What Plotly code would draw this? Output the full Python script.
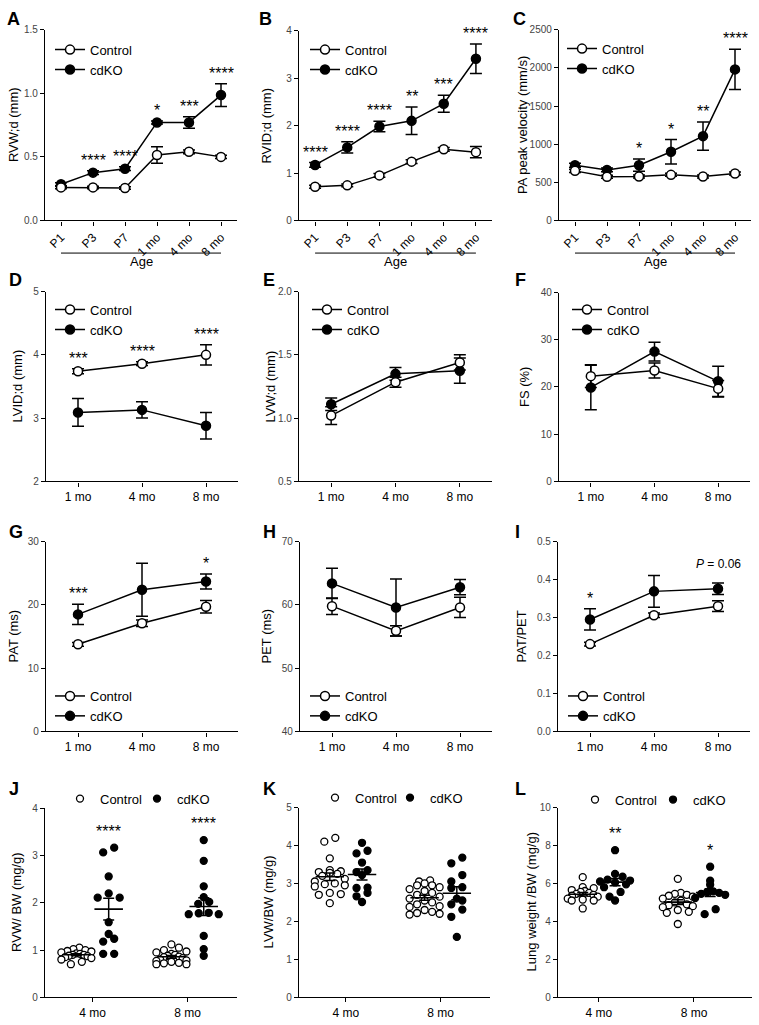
import numpy as np
import plotly.graph_objects as go

W, H = 759, 1025
FONT = "Liberation Sans, Arial, Helvetica, sans-serif"

# ---------------- data ----------------
ages_early = ["P1", "P3", "P7", "1 mo", "4 mo", "8 mo"]
ages_late = ["1 mo", "4 mo", "8 mo"]
ages_organ = ["4 mo", "8 mo"]

# A  RVW;d (mm)
rvwd_ctrl = [0.26, 0.26, 0.255, 0.515, 0.54, 0.50]
rvwd_ctrl_sem = [0.01, 0.01, 0.01, 0.065, 0.015, 0.012]
rvwd_ko = [0.285, 0.376, 0.407, 0.771, 0.771, 0.986]
rvwd_ko_sem = [0.012, 0.015, 0.015, 0.012, 0.045, 0.09]
rvwd_sig = ["", "****", "****", "*", "***", "****"]

# B  RVID;d (mm)
rvid_ctrl = [0.71, 0.74, 0.95, 1.24, 1.50, 1.44]
rvid_ctrl_sem = [0.03, 0.03, 0.04, 0.04, 0.04, 0.12]
rvid_ko = [1.17, 1.54, 1.98, 2.10, 2.46, 3.41]
rvid_ko_sem = [0.05, 0.12, 0.11, 0.29, 0.18, 0.31]
rvid_sig = ["****", "****", "****", "**", "***", "****"]

# C  PA peak velocity (mm/s)
pav_ctrl = [650, 572, 576, 598, 576, 615]
pav_ctrl_sem = [20, 20, 20, 20, 20, 20]
pav_ko = [724, 663, 724, 901, 1105, 1980]
pav_ko_sem = [25, 25, 80, 160, 185, 265]
pav_sig = ["", "", "*", "*", "**", "****"]

# D  LVID;d (mm)
lvid_ctrl = [3.74, 3.86, 4.00]
lvid_ctrl_sem = [0.04, 0.03, 0.16]
lvid_ko = [3.09, 3.13, 2.88]
lvid_ko_sem = [0.22, 0.13, 0.21]
lvid_sig = ["***", "****", "****"]

# E  LVW;d (mm)
lvw_ctrl = [1.02, 1.284, 1.44]
lvw_ctrl_sem = [0.07, 0.04, 0.06]
lvw_ko = [1.11, 1.35, 1.375]
lvw_ko_sem = [0.05, 0.05, 0.10]
lvw_sig = ["", "", ""]

# F  FS (%)
fs_ctrl = [22.3, 23.5, 19.65]
fs_ctrl_sem = [2.4, 1.6, 1.75]
fs_ko = [19.9, 27.5, 21.2]
fs_ko_sem = [4.7, 2.0, 3.2]
fs_sig = ["", "", ""]

# G  PAT (ms)
pat_ctrl = [13.77, 17.1, 19.7]
pat_ctrl_sem = [0.3, 0.5, 1.0]
pat_ko = [18.5, 22.4, 23.7]
pat_ko_sem = [1.6, 4.2, 1.2]
pat_sig = ["***", "", "*"]

# H  PET (ms)
pet_ctrl = [59.8, 55.9, 59.6]
pet_ctrl_sem = [1.3, 0.8, 1.6]
pet_ko = [63.4, 59.6, 62.8]
pet_ko_sem = [2.4, 4.5, 1.2]
pet_sig = ["", "", ""]

# I  PAT/PET
ratio_ctrl = [0.23, 0.306, 0.33]
ratio_ctrl_sem = [0.005, 0.006, 0.014]
ratio_ko = [0.295, 0.369, 0.376]
ratio_ko_sem = [0.028, 0.042, 0.015]
ratio_sig = ["*", "", "<i>P</i> = 0.06"]

# J  RVW/BW (mg/g)
rvwbw_ctrl = [
    [1.05, 1.02, 1.00, 0.98, 0.97, 0.95, 0.93, 0.92, 0.90, 0.90, 0.88, 0.87, 0.85, 0.83, 0.80, 0.75, 0.70],
    [1.12, 1.05, 1.00, 0.97, 0.95, 0.92, 0.90, 0.88, 0.86, 0.85, 0.83, 0.80, 0.78, 0.77, 0.75, 0.73, 0.72, 0.70, 0.70],
]
rvwbw_ko = [
    [3.17, 3.07, 2.56, 2.20, 2.11, 2.11, 1.59, 1.34, 1.24, 1.18, 0.92, 0.92],
    [3.33, 2.89, 2.35, 2.12, 2.02, 1.98, 1.79, 1.78, 1.76, 1.76, 1.30, 1.02, 0.88],
]
rvwbw_sig = ["****", "****"]

# K  LVW/BW (mg/g)
lvwbw_ctrl = [
    [4.20, 4.10, 3.66, 3.35, 3.32, 3.30, 3.28, 3.25, 3.20, 3.12, 3.05, 3.00, 2.98, 2.95, 2.92, 2.75, 2.72, 2.70, 2.48],
    [3.08, 3.05, 3.00, 2.95, 2.95, 2.90, 2.85, 2.80, 2.75, 2.70, 2.65, 2.60, 2.55, 2.50, 2.45, 2.40, 2.38, 2.30, 2.25, 2.22, 2.20, 2.18],
]
lvwbw_ko = [
    [4.07, 3.86, 3.79, 3.55, 3.35, 3.30, 3.22, 2.89, 2.88, 2.75, 2.66, 2.51],
    [3.68, 3.53, 3.22, 3.05, 2.90, 2.88, 2.60, 2.55, 2.45, 2.31, 2.12, 1.59],
]
lvwbw_sig = ["", ""]

# L  Lung weight/BW (mg/g)
lung_ctrl = [
    [6.33, 5.80, 5.75, 5.65, 5.60, 5.55, 5.50, 5.45, 5.40, 5.35, 5.30, 5.20, 5.15, 5.10, 5.10, 4.68],
    [6.24, 5.50, 5.45, 5.40, 5.35, 5.30, 5.20, 5.10, 5.00, 4.90, 4.85, 4.80, 4.75, 4.60, 4.50, 4.45, 3.86],
]
lung_ko = [
    [7.75, 6.50, 6.35, 6.20, 6.15, 6.10, 6.05, 5.95, 5.80, 5.55, 5.30, 5.10],
    [6.88, 6.14, 5.93, 5.58, 5.55, 5.50, 5.45, 5.40, 5.23, 4.64, 4.38],
]
lung_sig = ["**", "*"]

# ---------------- layout helpers ----------------
def dx(l, r):
    return [l / W, r / W]

def dy(t, b):
    return [1 - b / H, 1 - t / H]

line_panels = [
    # letter, box(l,t,r,b), cats, yrange, dtick, fmt, ylabel, ctrl, ctrl_sem, ko, ko_sem, sig, legend pos (x,y px), title x px
    ("A", (45, 24, 237, 217), ages_early, [0, 1.5], 0.5, ".1f", "RVW;d (mm)",
     rvwd_ctrl, rvwd_ctrl_sem, rvwd_ko, rvwd_ko_sem, rvwd_sig, (50, 29), 13),
    ("B", (299, 25, 492, 217), ages_early, [0, 4], 1, "d", "RVID;d (mm)",
     rvid_ctrl, rvid_ctrl_sem, rvid_ko, rvid_ko_sem, rvid_sig, (305, 29), 267),
    ("C", (559, 24, 751, 217), ages_early, [0, 2500], 500, "d", "PA peak velocity (mm/s)",
     pav_ctrl, pav_ctrl_sem, pav_ko, pav_ko_sem, pav_sig, (562, 28), 522),
    ("D", (46, 289, 238, 481), ages_late, [2, 5], 1, "d", "LVID;d (mm)",
     lvid_ctrl, lvid_ctrl_sem, lvid_ko, lvid_ko_sem, lvid_sig, (50, 292), 17),
    ("E", (299, 289, 492, 481), ages_late, [0.5, 2.0], 0.5, ".1f", "LVW;d (mm)",
     lvw_ctrl, lvw_ctrl_sem, lvw_ko, lvw_ko_sem, lvw_sig, (307, 292), 270),
    ("F", (559, 290, 750, 481), ages_late, [0, 40], 10, "d", "FS (%)",
     fs_ctrl, fs_ctrl_sem, fs_ko, fs_ko_sem, fs_sig, (567, 292), 525),
    ("G", (46, 542, 238, 734), ages_late, [0, 30], 10, "d", "PAT (ms)",
     pat_ctrl, pat_ctrl_sem, pat_ko, pat_ko_sem, pat_sig, (50, 683), 14),
    ("H", (300, 542, 492, 734), ages_late, [40, 70], 10, "d", "PET (ms)",
     pet_ctrl, pet_ctrl_sem, pet_ko, pet_ko_sem, pet_sig, (305, 683), 267),
    ("I", (558, 542, 750, 734), ages_late, [0, 0.5], 0.1, ".1f", "PAT/PET",
     ratio_ctrl, ratio_ctrl_sem, ratio_ko, ratio_ko_sem, ratio_sig, (563, 683), 522),
]

scatter_panels = [
    # letter, box, xrange, yrange, dtick, ylabel, ctrl, ko, sig, legend x (control, cdKO), legend y, title x
    ("J", (45, 812, 237, 1003), [-0.5, 1.52], [0, 4], 1, "RVW/ BW (mg/g)",
     rvwbw_ctrl, rvwbw_ko, rvwbw_sig, (60, 137), 802, 17),
    ("K", (299, 811, 490, 1003), [-0.495, 1.52], [0, 5], 1, "LVW/BW (mg/g)",
     lvwbw_ctrl, lvwbw_ko, lvwbw_sig, (315, 390), 801, 268),
    ("L", (558, 811, 752, 1003), [-0.43, 1.61], [0, 10], 2, "Lung weight /BW (mg/g)",
     lung_ctrl, lung_ko, lung_sig, (575, 653), 803, 531),
]

letter_pos = {
    "A": (5, 13), "B": (257, 13), "C": (511, 13),
    "D": (7, 277), "E": (261, 277), "F": (513, 277),
    "G": (7, 532), "H": (261, 532), "I": (513, 532),
    "J": (7, 792), "K": (261, 792), "L": (513, 792),
}

fig = go.Figure()
annotations = []
shapes = []
layout = {}

axis_common = dict(
    showline=True, linecolor="black", linewidth=1.3,
    ticks="outside", ticklen=4, tickwidth=1.2, tickcolor="black",
    showgrid=False, zeroline=False, fixedrange=True,
)

def row_offsets(vals, ypx, xpx, bin_h=9.0, spacing=11.0, max_w=30.0):
    """Scatter-dot-plot style spreading: points in the same vertical bin are laid out in a row."""
    vals = np.asarray(vals)
    bins = np.floor(vals * ypx / bin_h).astype(int)
    offs = np.zeros(len(vals))
    for bval in np.unique(bins):
        idx = np.where(bins == bval)[0]
        m = len(idx)
        if m == 1:
            continue
        sp = min(spacing, max_w / (m - 1))
        idx = idx[np.argsort(vals[idx])]
        order = np.arange(m)
        # alternate so neighbouring values do not line up monotonically
        order = np.concatenate([order[::2], order[1::2][::-1]])
        for j, ii in enumerate(idx[order]):
            offs[ii] = (j - (m - 1) / 2) * sp / xpx
    return offs

legend_count = [0]

def new_legend():
    legend_count[0] += 1
    n = legend_count[0]
    return "legend" if n == 1 else f"legend{n}"

n = 0
# ---------------- line panels ----------------
for (letter, box, cats, yr, dt, fmt, ylabel, c, cs, k, ks, sig, lpos, tx) in line_panels:
    n += 1
    l, t, r, b = box
    xa = "xaxis" if n == 1 else f"xaxis{n}"
    ya = "yaxis" if n == 1 else f"yaxis{n}"
    xr = "x" if n == 1 else f"x{n}"
    yrf = "y" if n == 1 else f"y{n}"
    xs = list(range(len(cats)))
    rotate = len(cats) == 6
    layout[xa] = dict(axis_common, domain=dx(l, r), anchor=yrf, range=[-0.5, len(cats) - 0.5],
                      tickvals=xs, ticktext=cats, tickangle=-45 if rotate else 0,
                      tickfont=dict(family=FONT, size=12, color="black"))
    layout[ya] = dict(axis_common, domain=dy(t, b), anchor=xr, range=yr, dtick=dt,
                      tick0=yr[0], tickformat=fmt,
                      tickfont=dict(family=FONT, size=10, color="#444"))
    lk = new_legend()
    mk = dict(size=9, line=dict(color="black", width=1.5))
    fig.add_trace(go.Scatter(
        x=xs, y=k, mode="lines+markers", name="cdKO", legend=lk,
        line=dict(color="black", width=1.5),
        marker=dict(mk, color="black"),
        error_y=dict(type="data", array=ks, color="black", thickness=1.5, width=6),
        xaxis=xr, yaxis=yrf, hoverinfo="skip"))
    fig.add_trace(go.Scatter(
        x=xs, y=c, mode="lines+markers", name="Control", legend=lk,
        line=dict(color="black", width=1.5),
        marker=dict(mk, color="white"),
        error_y=dict(type="data", array=cs, color="black", thickness=1.5, width=6),
        xaxis=xr, yaxis=yrf, hoverinfo="skip"))
    layout[lk] = dict(x=lpos[0] / W, y=1 - lpos[1] / H, xanchor="left", yanchor="top",
                      traceorder="reversed", bgcolor="rgba(0,0,0,0)",
                      font=dict(family=FONT, size=13, color="black"),
                      itemwidth=30, tracegroupgap=0)
    # significance
    for i, s in enumerate(sig):
        if not s:
            continue
        top = max(c[i] + cs[i], k[i] + ks[i])
        is_p = s.startswith("<i>")
        annotations.append(dict(
            x=i, y=top, xref=xr, yref=yrf, text=s, showarrow=False,
            yanchor="bottom", yshift=10 if is_p else 0,
            xanchor="center",
            font=dict(family=FONT, size=12 if is_p else 16, color="black")))
    # y title
    annotations.append(dict(
        x=tx / W, y=1 - (t + b) / 2 / H, xref="paper", yref="paper", text=ylabel,
        textangle=-90, showarrow=False, xanchor="center", yanchor="middle",
        font=dict(family=FONT, size=13, color="black")))
    if rotate:
        shapes.append(dict(type="line", xref=xr, yref="paper", x0=0, x1=len(cats) - 1,
                           y0=1 - 250 / H, y1=1 - 250 / H,
                           line=dict(color="black", width=1)))
        annotations.append(dict(
            x=(len(cats) - 1) / 2, y=1 - 259 / H, xref=xr, yref="paper", text="Age",
            showarrow=False, xanchor="center", yanchor="middle",
            font=dict(family=FONT, size=13, color="black")))

# ---------------- scatter panels ----------------
for (letter, box, xrng, yr, dt, ylabel, ctrl, ko, sig, lxs, ly, tx) in scatter_panels:
    n += 1
    l, t, r, b = box
    xa = f"xaxis{n}"
    ya = f"yaxis{n}"
    xr = f"x{n}"
    yrf = f"y{n}"
    xpx = (r - l) / (xrng[1] - xrng[0])
    ypx = (b - t) / (yr[1] - yr[0])
    layout[xa] = dict(axis_common, domain=dx(l, r), anchor=yrf, range=xrng,
                      tickvals=[0, 1], ticktext=ages_organ,
                      tickfont=dict(family=FONT, size=12, color="black"))
    layout[ya] = dict(axis_common, domain=dy(t, b), anchor=xr, range=yr, dtick=dt,
                      tick0=0, tickfont=dict(family=FONT, size=10, color="#444"))
    for g, (groups, name, fill, off, lx) in enumerate([(ctrl, "Control", "white", -0.17, lxs[0]),
                                                      (ko, "cdKO", "black", 0.17, lxs[1])]):
        lk = new_legend()
        layout[lk] = dict(x=lx / W, y=1 - ly / H, xanchor="left", yanchor="middle",
                          bgcolor="rgba(0,0,0,0)",
                          font=dict(family=FONT, size=13, color="black"),
                          itemwidth=30)
        for i, vals in enumerate(groups):
            offs = row_offsets(vals, ypx, xpx)
            fig.add_trace(go.Scatter(
                x=i + off + offs, y=vals, mode="markers", name=name,
                legend=lk, legendgroup=f"{lk}{name}", showlegend=(i == 0),
                marker=dict(size=7, color=fill, line=dict(color="black", width=1.3)),
                xaxis=xr, yaxis=yrf, hoverinfo="skip"))
    for g, (groups, off) in enumerate([(ctrl, -0.17), (ko, 0.17)]):
        for i, vals in enumerate(groups):
            arr = np.asarray(vals)
            m = arr.mean()
            sem = arr.std(ddof=1) / np.sqrt(len(arr))
            fig.add_trace(go.Scatter(
                x=[i + off - 0.15, i + off + 0.15], y=[m, m], mode="lines",
                line=dict(color="black", width=1.6), showlegend=False,
                xaxis=xr, yaxis=yrf, hoverinfo="skip"))
            fig.add_trace(go.Scatter(
                x=[i + off], y=[m], mode="markers",
                marker=dict(size=1, color="rgba(0,0,0,0)"),
                error_y=dict(type="data", array=[sem], color="black", thickness=1.5, width=5.5),
                showlegend=False, xaxis=xr, yaxis=yrf, hoverinfo="skip"))
    for i, s in enumerate(sig):
        if not s:
            continue
        top = max(ko[i])
        annotations.append(dict(
            x=i + 0.17, y=top, xref=xr, yref=yrf, text=s, showarrow=False,
            yanchor="bottom", yshift=6, xanchor="center",
            font=dict(family=FONT, size=16, color="black")))
    annotations.append(dict(
        x=tx / W, y=1 - (t + b) / 2 / H, xref="paper", yref="paper", text=ylabel,
        textangle=-90, showarrow=False, xanchor="center", yanchor="middle",
        font=dict(family=FONT, size=13, color="black")))

for letter, (lx, ly) in letter_pos.items():
    annotations.append(dict(
        x=lx / W, y=1 - ly / H, xref="paper", yref="paper", text=f"<b>{letter}</b>",
        showarrow=False, xanchor="left", yanchor="middle",
        font=dict(family=FONT, size=18, color="black")))

fig.update_layout(
    width=W, height=H, margin=dict(l=0, r=0, t=0, b=0),
    paper_bgcolor="white", plot_bgcolor="white",
    font=dict(family=FONT, color="black"),
    annotations=annotations, shapes=shapes,
    **layout,
)

fig.write_html(
    "out.html",
    config={"displayModeBar": False},
    post_script="document.body.style.margin='0';document.body.style.overflow='hidden';",
)
